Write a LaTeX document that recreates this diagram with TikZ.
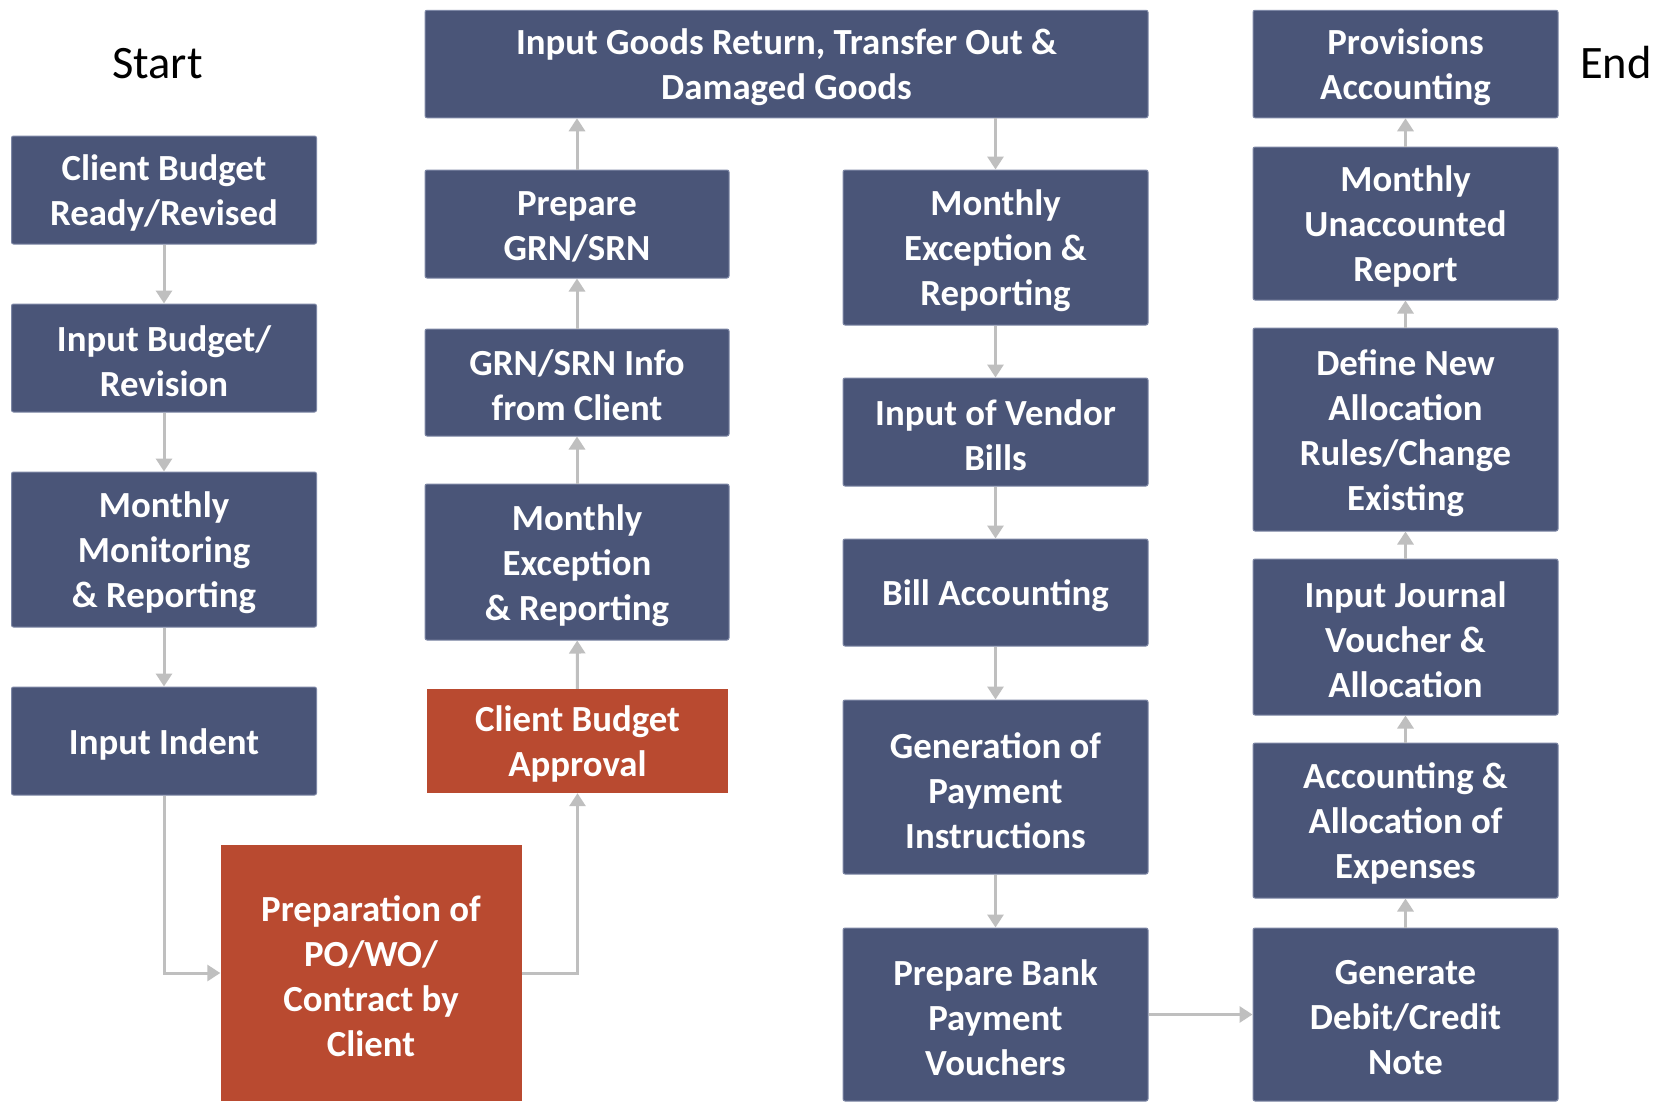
\documentclass[tikz,border=0pt]{standalone}
\usepackage{fontspec}
\setmainfont{Carlito}
\usetikzlibrary{arrows.meta}
\definecolor{boxblue}{RGB}{74,85,120}
\definecolor{boxedge}{RGB}{125,135,165}
\definecolor{boxred}{RGB}{185,74,48}
\definecolor{arrowgray}{RGB}{191,191,191}
\tikzset{
  btext/.style={text=white, font=\bfseries\fontsize{36.8}{45}\selectfont, align=center,
    inner sep=0pt, yshift=-3.2pt},
  box/.style={rectangle, fill=boxblue, draw=boxedge, line width=1pt, rounded corners=2pt,
    inner sep=0pt, label={[btext]center:{#1}}},
  redbox/.style={rectangle, fill=boxred, draw=none, inner sep=0pt,
    label={[btext]center:{#1}}},
  conn/.style={draw=arrowgray, line width=3pt, -{Triangle[length=13pt,width=16pt]}},
  endlabel/.style={font=\fontsize{46.5}{56}\selectfont, inner sep=0pt}
}
\begin{document}
\begin{tikzpicture}[x=1pt,y=-1pt]
\clip (0,0) rectangle (1655,1101);
\fill[white] (0,0) rectangle (1655,1101);

\node[endlabel, anchor=base west] (start) at (112,78) {Start};
\node[endlabel, anchor=base west] (end) at (1580,78) {End};

% column 1
\node[box={Client Budget\\Ready/Revised}, minimum width=305, minimum height=108] (cb) at (164,190) {};
\node[box={Input Budget/\\Revision}, minimum width=305, minimum height=108] (ib) at (164,358) {};
\node[box={Monthly\\Monitoring\\\& Reporting}, minimum width=305, minimum height=155] (mm) at (164,549.5) {};
\node[box={Input Indent}, minimum width=305, minimum height=108] (ii) at (164,741) {};

% column 2
\node[redbox={Preparation of\\PO/WO/\\Contract by\\Client}, minimum width=301, minimum height=256] (po) at (371,973) {};
\node[redbox={Client Budget\\Approval}, minimum width=301, minimum height=104] (cba) at (577.5,741) {};
\node[box={Monthly\\Exception\\\& Reporting}, minimum width=304, minimum height=156] (me) at (577,562) {};
\node[box={GRN/SRN Info\\from Client}, minimum width=304, minimum height=107] (gi) at (577,382.5) {};
\node[box={Prepare\\GRN/SRN}, minimum width=304, minimum height=108] (pg) at (577,224) {};
\node[box={Input Goods Return, Transfer Out \&\\Damaged Goods}, minimum width=723, minimum height=107.5] (ig) at (786.5,64) {};

% column 3
\node[box={Monthly\\Exception \&\\Reporting}, minimum width=305, minimum height=155] (mer) at (995.5,247.5) {};
\node[box={Input of Vendor\\Bills}, minimum width=305, minimum height=108] (vb) at (995.5,432) {};
\node[box={Bill Accounting}, minimum width=305, minimum height=107] (ba) at (995.5,592.5) {};
\node[box={Generation of\\Payment\\Instructions}, minimum width=305, minimum height=174] (gp) at (995.5,787) {};
\node[box={Prepare Bank\\Payment\\Vouchers}, minimum width=305, minimum height=173] (pb) at (995.5,1014.5) {};

% column 4
\node[box={Generate\\Debit/Credit\\Note}, minimum width=305, minimum height=173] (gd) at (1405.5,1014.5) {};
\node[box={Accounting \&\\Allocation of\\Expenses}, minimum width=305, minimum height=155] (aa) at (1405.5,820.5) {};
\node[box={Input Journal\\Voucher \&\\Allocation}, minimum width=305, minimum height=156] (ij) at (1405.5,637) {};
\node[box={Define New\\Allocation\\Rules/Change\\Existing}, minimum width=305, minimum height=203] (dn) at (1405.5,429.5) {};
\node[box={Monthly\\Unaccounted\\Report}, minimum width=305, minimum height=153] (mu) at (1405.5,223.5) {};
\node[box={Provisions\\Accounting}, minimum width=305, minimum height=107.5] (pa) at (1405.5,64) {};

% connectors
\draw[conn] (cb) -- (ib);
\draw[conn] (ib) -- (mm);
\draw[conn] (mm) -- (ii);
\draw[conn] (ii.south) |- (po.west);
\draw[conn] (po.east) -| (cba.south);
\draw[conn] (cba) -- (me);
\draw[conn] (me) -- (gi);
\draw[conn] (gi) -- (pg);
\draw[conn] (pg.north) -- (pg.north |- ig.south);
\draw[conn] (ig.south -| mer.north) -- (mer.north);
\draw[conn] (mer) -- (vb);
\draw[conn] (vb) -- (ba);
\draw[conn] (ba) -- (gp);
\draw[conn] (gp) -- (pb);
\draw[conn] (pb) -- (gd);
\draw[conn] (gd) -- (aa);
\draw[conn] (aa) -- (ij);
\draw[conn] (ij) -- (dn);
\draw[conn] (dn) -- (mu);
\draw[conn] (mu) -- (pa);
\end{tikzpicture}
\end{document}
